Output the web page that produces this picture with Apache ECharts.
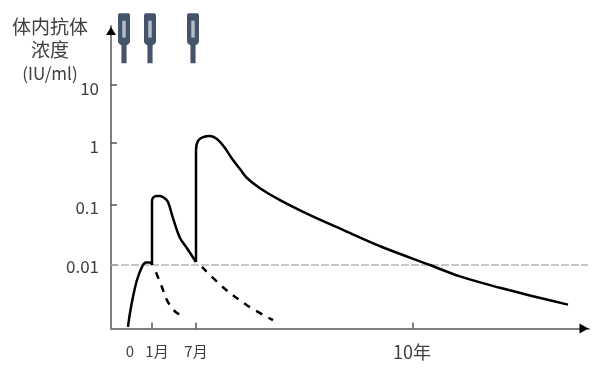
<!DOCTYPE html>
<html><head><meta charset="utf-8">
<style>html,body{margin:0;padding:0;background:#fff}#c{width:600px;height:369px}</style>
<script src="https://cdn.jsdelivr.net/npm/echarts@6/dist/echarts.min.js"></script>
</head><body><div id="c"></div>
<script>
// x: schematic time position, y: log10(IU/ml)
const primingCurve=[[0,-3.03],[2,-2.8],[5,-2.53],[9,-2.25],[14,-2.03],[18,-1.96],[22,-1.96],[24,-2]];
const secondCurve=[[24,-2],[24,-0.95],[25,-0.88],[29,-0.85],[32,-0.85],[36,-0.88],[40,-0.95],[45,-1.22],[52,-1.55],[59,-1.72],[68,-1.95]];
const thirdCurve=[[68,-1.95],[68,-0.08],[70,0.07],[75,0.13],[82,0.15],[89,0.1],[96,-0.03],[105,-0.25],[112,-0.4],[119,-0.55],[132,-0.72],[152,-0.92],[182,-1.17],[217,-1.43],[254,-1.7],[302,-2],[332,-2.19],[372,-2.38],[405,-2.52],[440,-2.66]];
const waningAfterFirst=[[28,-2.12],[34,-2.37],[40,-2.62],[49,-2.8],[58,-2.85]];
const waningAfterSecond=[[74,-2.03],[95,-2.37],[119,-2.67],[145,-2.92]];
const threshold=[[-17,-2],[460,-2]];
const doses=[[-4,1.78],[22,1.78],[65,1.78]];
const yTicks=[-2,-1,0.03,1];
const yLabelPos=[-2.03,-1.05,-0.02,0.94];
const yLabels=['0.01','0.1','1','10'];
const xTicks=[24,68,285];
const xLabelPos=[2,29,68,284];
const xLabels=['{s|0}','{s|1月}','{s|7月}','{b|10年}'];
const textColor='#404040', axisColor='#7f7f7f', black='#000';
const syringe='path://M3 0H13Q15 0 15 3V28Q15 30 13 31L11 32V50H5V32L3 31Q1 30 1 28V3Q1 0 3 0Z';
const line=(data,dash)=>({type:'line',data,showSymbol:false,symbol:'none',smooth:0.35,z:3,
  lineStyle:{color:black,width:2.5,type:dash?[7,7]:'solid',cap:'butt'},silent:true});
const chart=echarts.init(document.getElementById('c'),null,{renderer:'canvas'});
chart.setOption({
 animation:false,backgroundColor:'#fff',
 textStyle:{fontFamily:'"Noto Sans CJK SC","Noto Sans",sans-serif'},
 title:{text:'{a|体内抗体}\n{a|浓度}\n{c|(IU/ml)}',left:50,top:15,padding:0,textAlign:'center',
   textStyle:{fontWeight:'normal',rich:{a:{fontSize:19,fontWeight:'normal',lineHeight:23,color:textColor,fontFamily:'"Noto Sans CJK SC"'},c:{fontSize:17,fontWeight:'normal',lineHeight:26,color:textColor,fontFamily:'"Noto Sans CJK SC"'}}}},
 grid:{left:111,right:11,top:26,bottom:40.5},
 xAxis:{type:'value',min:-17,max:461,splitLine:{show:false},
   axisLine:{onZero:false,lineStyle:{color:axisColor,width:2}},
   axisTick:{inside:true,length:6,lineStyle:{color:'#555',width:1.5},customValues:xTicks},
   axisLabel:{margin:15,customValues:xLabelPos,formatter:(v)=>xLabels[xLabelPos.indexOf(v)],
     rich:{s:{fontSize:15,color:textColor},b:{fontSize:18,color:textColor}},hideOverlap:false,showMinLabel:true,showMaxLabel:true}},
 yAxis:{type:'value',min:-3.058,max:1.983,splitLine:{show:false},
   axisLine:{onZero:false,lineStyle:{color:axisColor,width:2}},
   axisTick:{inside:true,length:6,lineStyle:{color:'#555',width:1.5},customValues:yTicks},
   axisLabel:{margin:12,fontSize:17,color:textColor,customValues:yLabelPos,formatter:(v)=>yLabels[yLabelPos.indexOf(v)]}},
 series:[
  {type:'line',data:threshold,symbol:'none',z:1,silent:true,lineStyle:{color:'#b5b5b5',width:1.3,type:[8,2]}},
  line(primingCurve),line(secondCurve),line(thirdCurve),
  line(waningAfterFirst,true),line(waningAfterSecond,true),
  {type:'scatter',data:doses,symbol:syringe,symbolSize:[12,50],clip:false,silent:true,z:5,itemStyle:{color:'#44546a',opacity:1}},
  {type:'scatter',data:doses,symbol:'rect',symbolSize:[3.5,17],clip:false,silent:true,z:6,symbolOffset:[0,-9],itemStyle:{color:'#b4bcc6',opacity:1}},
  {type:'scatter',data:[[-17,1.9]],symbol:'triangle',symbolSize:[10,8],clip:false,silent:true,z:7,itemStyle:{color:black,opacity:1}},
  {type:'scatter',data:[[456,-3.058]],symbol:'triangle',symbolRotate:-90,symbolSize:[10,9],clip:false,silent:true,z:7,itemStyle:{color:black,opacity:1}}
 ]
});
</script></body></html>
